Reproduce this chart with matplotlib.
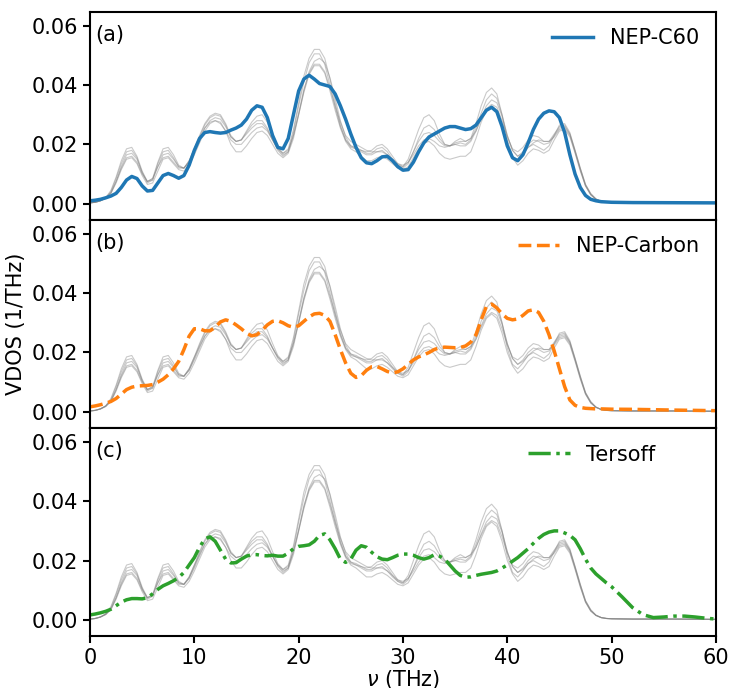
import numpy as np
import matplotlib
matplotlib.use("Agg")
from matplotlib import pyplot as plt

# frequency grid (THz): 0 .. 50 every 0.5, then a sparse tail
nu = np.r_[np.arange(0, 50.5, 0.5), 52, 56, 60]
nu_tersoff = np.r_[np.arange(0, 50.5, 0.5), np.arange(51, 61, 1)]

# VDOS values below are in units of 1e-3 1/THz
# reference curves (grey)
ref1 = [0.3, 0.5, 1, 2, 4.5, 9, 14.5, 18.5, 19, 16,
        11, 7.5, 8.5, 14, 18.5, 19, 16.5, 13, 12, 14.5,
        18.5, 23, 27, 29.5, 30.5, 30, 27, 23, 21, 21.5,
        24.5, 27.5, 29.5, 30, 27.5, 23, 19, 17, 18.5, 25,
        34, 43, 49, 52, 52, 49, 42, 34, 26.5, 21.5,
        19, 18.5, 18, 17.5, 18, 19.5, 20, 18.5, 16, 13.5,
        12.5, 15, 20, 25, 29, 30, 28, 23.5, 20, 19.5,
        21, 22, 21, 22, 27, 33, 37.5, 39, 37, 30,
        21.5, 16, 14.5, 16.5, 19, 20, 19, 18, 19.5, 23,
        26.5, 27, 24, 18, 12, 6.5, 3.5, 1.6, 0.8, 0.5,
        0.4, 0.3, 0.3, 0.2]
ref2 = [0.3, 0.5, 1, 2, 4, 8.5, 13.5, 17.5, 18, 15.5,
        10.5, 7, 8, 13.5, 17.5, 18, 15.5, 12.5, 12, 14,
        18, 22.5, 26.5, 29, 30, 29.5, 26.5, 22.5, 21, 21.5,
        24, 26.5, 28, 28, 25.5, 21.5, 18, 16, 17.5, 24,
        33, 41, 47.5, 50.5, 50.5, 47, 40, 32.5, 26, 21.5,
        19.5, 19, 18, 17, 17, 18.5, 19, 17.5, 15, 13,
        12, 13.5, 17.5, 22, 25.5, 26.5, 25, 22, 20, 19.5,
        20, 20.5, 20, 21.5, 25.5, 30.5, 35, 37, 35.5, 30,
        23, 18, 16, 17, 19, 20.5, 21.5, 21, 21, 23.5,
        26, 26.5, 23.5, 17.5, 11.5, 6, 3, 1.5, 0.8, 0.5,
        0.4, 0.3, 0.3, 0.2]
ref3 = [0.3, 0.5, 1, 1.8, 3.5, 7.5, 12.5, 16.5, 17, 15,
        10.5, 7.5, 8, 12.5, 16.5, 17, 15, 12.5, 12, 14,
        17.5, 21.5, 25.5, 28, 29, 28.5, 26, 22.5, 21, 21.5,
        23.5, 25.5, 27, 27, 25, 21.5, 18.5, 17, 18, 23,
        30, 38, 44.5, 48, 49, 47.5, 42.5, 35.5, 28, 22.5,
        19.5, 18.5, 17.5, 16.5, 16.5, 17.5, 18, 16.5, 14.5, 13,
        12.5, 14, 17.5, 21, 23.5, 24, 23, 21, 19.5, 19.5,
        20, 19.5, 19.5, 21, 24.5, 29, 33, 35, 34, 29.5,
        23, 18, 16, 17.5, 20, 21.5, 21, 20, 20.5, 23,
        25.5, 26, 23.5, 18, 12, 6.5, 3.3, 1.6, 0.8, 0.5,
        0.4, 0.3, 0.3, 0.2]
ref4 = [0.3, 0.5, 1, 2, 3.8, 7.5, 12, 15.5, 16, 14,
        10, 7.5, 8.5, 12.5, 15.5, 16, 14, 12, 12, 14.5,
        18.5, 22, 25.5, 27.5, 28, 27, 24.5, 21.5, 20, 20,
        22, 24, 25.5, 26, 24.5, 21.5, 18.5, 16.5, 17.5, 23,
        30.5, 38.5, 44, 47, 47, 44.5, 39, 33, 27.5, 23,
        21, 20, 19, 18, 17.5, 17.5, 17.5, 16.5, 15, 13.5,
        13, 14, 16.5, 19.5, 21.5, 22, 21, 19.5, 19, 19.5,
        20.5, 21, 21, 22, 24.5, 28.5, 32, 33.5, 32.5, 28,
        22.5, 18.5, 17.5, 19, 21.5, 23, 22.5, 21, 21, 22.5,
        25, 25.5, 23, 17.5, 11.5, 6.2, 3.2, 1.6, 0.8, 0.5,
        0.4, 0.3, 0.3, 0.2]
ref5 = [0.3, 0.5, 1, 1.8, 3.5, 7, 11.5, 15, 15.5, 13.5,
        9.5, 6.5, 7, 11, 15, 15.5, 13.5, 11.5, 11, 13,
        16.5, 20.5, 24.5, 27, 28, 27.5, 24.5, 20, 17.5, 17.5,
        19.5, 22, 24, 24.5, 23, 20, 17, 15.5, 17, 22,
        30, 37.5, 43.5, 46.5, 46.5, 44, 38, 31.5, 25.5, 21,
        18.5, 17.5, 16, 14.5, 14.5, 15.5, 16, 15, 13.5, 12,
        11.5, 12.5, 15.5, 18.5, 20.5, 21, 19.5, 17, 15.5, 15,
        15.5, 16, 16, 17.5, 22, 27.5, 31.5, 33, 31.5, 26.5,
        20, 15.5, 13, 14.5, 17, 18.5, 18, 17, 18, 21.5,
        24.5, 25, 22.5, 17, 11, 6, 3, 1.5, 0.8, 0.5,
        0.4, 0.3, 0.3, 0.2]

nep_c60 = [1.0, 1.2, 1.5, 2.0, 2.6, 3.5, 5.5, 8.0, 9.2, 8.5,
           6.0, 4.3, 4.5, 7.0, 9.5, 10.2, 9.5, 8.6, 9.5, 13,
           18, 22, 24, 24.3, 24, 23.8, 24, 24.8, 25.5, 26.5,
           28.5, 31.5, 33, 32.5, 29, 23, 19, 18.5, 22, 30,
           38, 42, 43.3, 42, 40.5, 40, 39.5, 37, 33, 28.5,
           23.5, 19, 15.5, 13.8, 13.5, 14.5, 15.8, 16, 14.5, 12.5,
           11.3, 11.5, 14, 17.5, 20.5, 22.5, 23.5, 24.5, 25.5, 26,
           26, 25.5, 25, 25.3, 26.5, 29, 31.5, 32.5, 31, 26,
           19.5, 15.5, 14.5, 16.5, 20.5, 25, 28.5, 30.5, 31.3, 31,
           29, 24, 16.5, 10, 5.5, 2.8, 1.5, 1.0, 0.7, 0.6,
           0.5, 0.4, 0.35, 0.3]
nep_carbon = [1.7, 2.0, 2.4, 2.9, 3.5, 4.5, 6.0, 7.5, 8.3, 8.7,
              8.8, 8.9, 9.2, 10.0, 11.0, 12.5, 14.5, 17, 21, 25.5,
              28, 28, 27.3, 27.3, 28.5, 30.3, 31, 30.5, 29.3, 28,
              26.5, 25.6, 26, 27.5, 29.3, 30.5, 30.7, 30, 29, 28.5,
              29, 30.5, 32, 33, 33.2, 32.5, 30.5, 26, 21, 16.5,
              13, 11.6, 12.2, 14, 15.2, 15.3, 14.5, 13.6, 13.1, 13.5,
              14.5, 16, 17.5, 18.5, 19.2, 20, 21, 21.6, 21.8, 21.7,
              21.6, 21.7, 22.2, 23.5, 26, 31, 35.5, 36.3, 35, 33,
              31.5, 31, 31.3, 32.5, 34, 34.4, 33.5, 30.5, 26, 20.5,
              14.5, 8.5, 4.0, 2.2, 1.5, 1.2, 1.1, 1.0, 1.0, 0.95,
              0.9, 0.85, 0.6, 0.4]
tersoff = [1.7, 2.0, 2.4, 2.9, 3.6, 4.8, 6.0, 6.8, 7.2, 7.2,
           7.1, 7.5, 8.8, 10.3, 11.5, 12.3, 13.2, 14.3, 16, 18.5,
           21, 24.5, 27.3, 28.0, 26.5, 23.5, 20.5, 19.2, 19.3, 20.5,
           21.5, 22, 22, 21.7, 21.6, 21.8, 21.5, 21.5, 22.5, 24,
           24.8, 25, 25.3, 26.5, 28.5, 29, 27, 24, 20.5, 19.4,
           20.5, 23.5, 25, 24.5, 22.8, 21.3, 20.5, 20.3, 21, 21.8,
           22.2, 22.2, 21.8, 21, 20.5, 21, 22, 21.5, 20.5, 18.5,
           16.5, 15, 14.4, 14.5, 15, 15.4, 15.7, 16, 16.5, 17.5,
           18.5, 19.8, 21, 22.5, 24, 25.8, 27.5, 28.8, 29.6, 30,
           30, 29.3, 28.5, 27, 24, 20.5, 17.5, 15.5, 14, 12.5,
           11.2, 7.8, 4.2, 1.8, 0.8, 1.0, 1.3, 1.3, 1.0, 0.6, 0.3]

refs = [ref1, ref2, ref3, ref4, ref5]
models = [("NEP-C60", nu, nep_c60, "C0", "-"),
          ("NEP-Carbon", nu, nep_carbon, "C1", "--"),
          ("Tersoff", nu_tersoff, tersoff, "C2", "-.")]
panel_labels = ["(a)", "(b)", "(c)"]

plt.rcParams["font.size"] = 15

fig, axes = plt.subplots(3, 1, sharex=True, figsize=(7.32, 6.88), dpi=100)
fig.subplots_adjust(left=0.123, right=0.978, top=0.983, bottom=0.0756, hspace=0)

for i, ax in enumerate(axes):
    # grey reference curves first, model on top
    for r in refs:
        ax.plot(nu, np.array(r) * 1e-3, color="grey", lw=0.8, alpha=0.42)
    name, x, y, c, ls = models[i]
    ax.plot(x, np.array(y) * 1e-3, color=c, ls=ls, lw=2.5, label=name)
    ax.set_xlim(0, 60)
    ax.set_ylim(-0.0054, 0.0647)
    ax.set_yticks([0, 0.02, 0.04, 0.06])
    ax.yaxis.set_major_formatter(matplotlib.ticker.FormatStrFormatter("%.2f"))
    ax.text(0.009, 0.935, panel_labels[i], transform=ax.transAxes, va="top", ha="left")
    for s in ax.spines.values():
        s.set_linewidth(1.5)
    ax.tick_params(width=1.5, length=5)
    if i < 2:
        ax.tick_params(axis="x", bottom=False)
    if i == 2:
        ax.legend(loc="upper right", frameon=False, bbox_to_anchor=(0.93, 1.0),
                  borderaxespad=0.4)
    else:
        ax.legend(loc="upper right", frameon=False, borderaxespad=0.4)

axes[1].set_ylabel("VDOS (1/THz)")
axes[2].set_xlabel(r"$\nu$ (THz)", labelpad=0)
axes[2].set_xticks([0, 10, 20, 30, 40, 50, 60])

fig.savefig("out.png")
